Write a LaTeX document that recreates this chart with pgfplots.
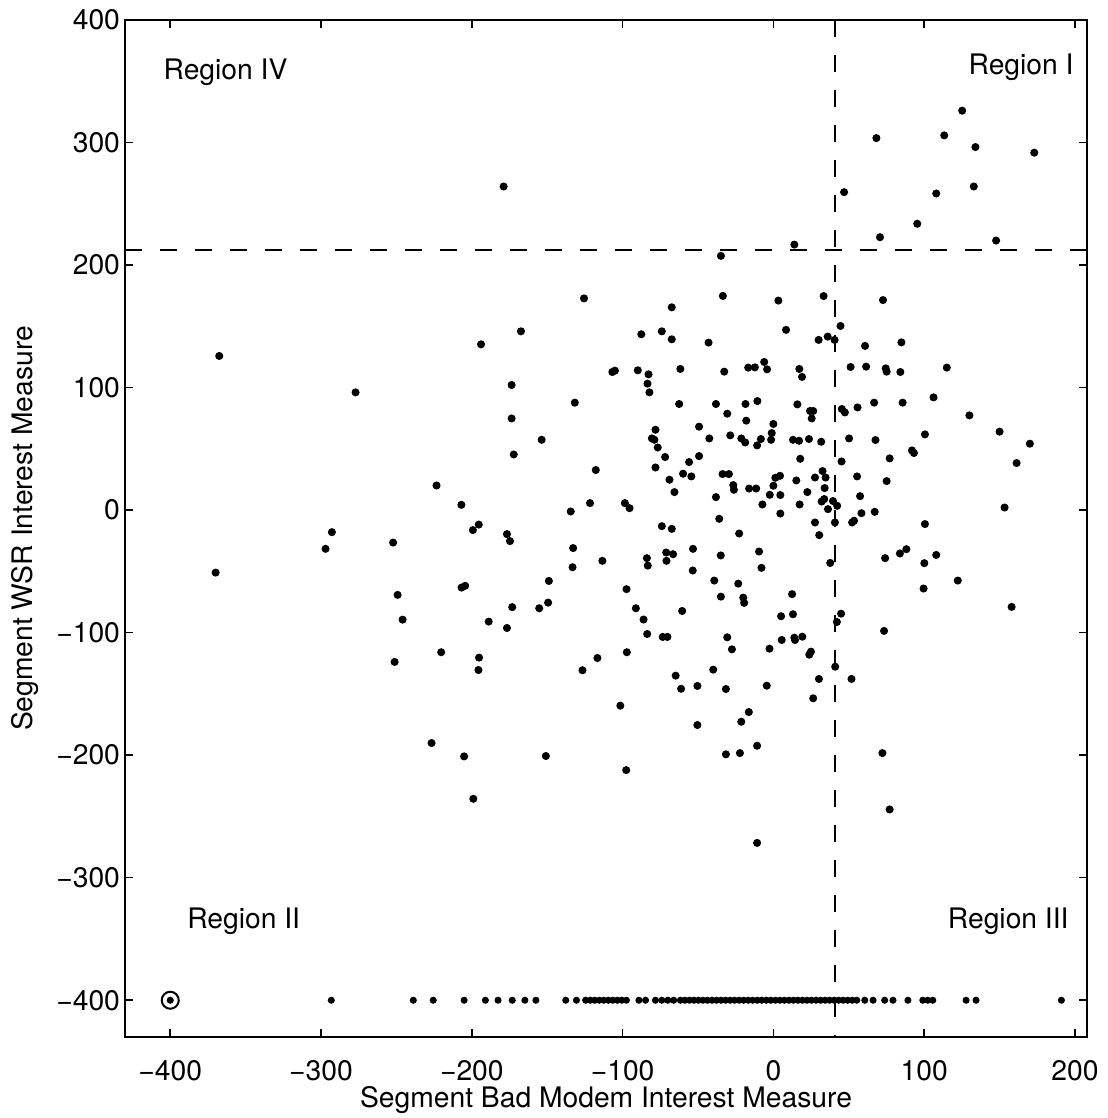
\documentclass[border=0pt]{standalone}
\usepackage{fontspec}
\setmainfont{TeX Gyre Heros}
\usepackage{pgfplots}
\pgfplotsset{compat=1.18}
\usepackage{pgfplotstable}

% points, x = bad modem measure, y = WSR measure
\pgfplotstableread{
x y
-178.9 264.1
-34.8 207.5
-125.6 172.8
-33.5 174.8
3.3 171.0
13.9 216.7
33.3 174.7
72.7 171.4
46.9 259.5
68.3 303.6
70.7 222.7
95.4 233.7
108.0 258.4
113.3 305.8
125.2 326.0
134.0 296.3
132.9 264.1
147.7 220.0
173.0 291.7
-367.5 125.8
-277.1 96.1
-223.4 20.1
-292.8 -18.0
-297.0 -31.6
-252.2 -26.5
-369.9 -51.0
-249.2 -69.2
-245.9 -89.4
-220.3 -116.0
-251.2 -123.9
-226.7 -190.1
-67.4 165.5
-167.4 145.9
-193.9 135.3
-87.6 143.5
-74.0 145.9
-67.4 139.4
-43.0 136.7
-173.6 102.1
-106.8 112.7
-105.1 113.8
-89.9 114.1
-82.8 110.8
-83.5 103.2
-82.2 96.1
-61.7 115.2
-32.6 113.0
-16.7 116.3
-12.3 116.5
-6.1 120.9
-4.2 114.9
-131.7 87.7
-173.6 74.8
-153.7 57.4
-172.2 45.4
-62.5 86.6
-38.1 86.6
-18.5 86.6
-10.6 89.0
-30.6 78.7
-18.0 73.0
0.0 70.3
-49.3 68.1
-42.5 58.5
-28.6 61.0
-21.3 58.5
-18.7 55.2
-8.3 58.0
-10.8 52.8
-1.5 57.4
-1.1 62.9
-78.2 65.6
-80.6 58.5
-78.9 57.4
-76.7 51.1
-71.8 43.3
-78.2 34.8
-55.9 39.2
-49.3 44.1
-68.9 24.8
-59.9 29.7
-54.4 27.5
-65.6 14.7
-117.8 32.7
-206.9 4.3
-195.4 -11.8
-199.3 -16.3
-176.7 -19.6
-174.7 -25.3
-134.4 -1.1
-121.6 5.7
-98.5 5.7
-95.4 1.6
-132.8 -31.0
-74.0 -13.1
-67.4 -15.3
-53.3 -31.6
-71.1 -34.6
-66.5 -36.0
-38.1 10.6
-35.9 -7.1
-22.7 -19.1
-9.5 -33.8
-34.9 -37.0
-33.7 29.4
-29.5 29.4
-26.6 20.4
-26.2 16.6
-16.1 17.6
-11.4 17.6
-7.3 4.6
-2.4 12.5
0.0 19.9
1.3 26.4
4.6 12.3
4.6 -2.8
8.4 147.1
44.5 150.3
30.0 138.9
36.0 141.6
40.6 138.9
60.8 134.0
84.9 136.9
17.2 115.2
19.0 108.7
51.2 116.8
61.5 117.1
74.5 115.7
75.1 113.0
84.2 112.7
115.0 116.3
15.9 86.3
24.3 80.9
26.4 80.9
25.4 74.8
45.4 82.5
47.4 79.7
55.8 83.8
66.8 87.7
85.7 87.7
106.2 92.0
130.0 77.3
13.0 57.4
17.0 56.6
23.6 58.0
31.7 55.8
50.2 58.5
67.7 57.2
100.5 61.8
91.9 48.7
93.2 46.6
77.1 42.2
17.8 41.9
45.2 39.7
150.0 64.0
170.1 54.2
161.3 38.4
32.6 31.9
4.4 28.0
27.6 26.6
34.6 26.6
15.2 24.2
55.5 27.5
75.1 23.7
34.0 18.0
22.5 14.7
57.5 11.4
32.0 7.0
33.7 9.0
39.5 7.4
42.3 3.5
36.2 0.8
17.4 4.6
58.4 -2.5
67.2 -1.4
27.6 -10.1
40.8 -10.1
52.2 -10.1
53.5 -8.7
30.4 -20.4
100.5 -11.4
153.3 2.1
83.9 -35.4
88.2 -31.9
108.0 -36.6
37.7 -43.1
74.1 -39.2
100.1 -43.3
122.3 -57.5
99.6 -64.0
158.0 -79.0
12.4 -68.6
5.1 -86.6
13.0 -85.0
5.5 -106.0
13.9 -104.1
14.3 -106.0
19.2 -103.3
23.8 -118.0
24.9 -115.5
44.9 -84.5
42.1 -91.3
73.4 -98.6
41.0 -127.8
30.2 -137.8
51.8 -137.8
26.4 -153.6
72.3 -198.3
77.1 -244.3
-83.9 -39.2
-83.3 -45.3
-70.9 -41.4
-113.4 -41.4
-133.2 -46.6
-53.5 -49.3
-7.9 -47.1
-148.9 -57.8
-206.8 -63.2
-204.4 -61.8
-97.4 -64.5
-39.2 -57.5
-23.3 -60.0
-34.8 -70.6
-20.0 -71.4
-19.4 -75.7
-173.2 -79.2
-155.3 -80.1
-149.4 -75.5
-188.8 -91.0
-176.7 -96.2
-91.2 -80.1
-86.1 -89.3
-83.7 -101.1
-73.4 -103.5
-70.3 -103.5
-60.5 -82.3
-30.6 -103.8
-27.5 -113.6
-2.6 -113.1
-195.2 -120.4
-195.6 -130.5
-126.6 -130.7
-116.7 -120.7
-97.2 -116.0
-64.8 -135.1
-61.2 -145.8
-50.4 -143.5
-39.9 -130.2
-31.5 -146.0
-4.4 -143.3
-101.5 -159.6
-50.4 -175.4
-16.3 -164.8
-21.3 -172.7
-10.8 -192.3
-31.5 -199.3
-22.2 -198.3
-205.1 -201.0
-150.9 -200.7
-97.6 -212.2
-199.0 -235.6
-10.8 -271.6
}\scatterdata

% segments with no WSR measure sit on the -400 line
\pgfplotstableread{
x y
-293.2 -400
-238.8 -400
-225.6 -400
-205.1 -400
-191.0 -400
-182.6 -400
-173.2 -400
-164.8 -400
-157.5 -400
-137.7 -400
-130.6 -400
-124.5 -400
-121.5 -400
-118.5 -400
-115.5 -400
-112.5 -400
-109.5 -400
-106.5 -400
-103.5 -400
-100.5 -400
-97.5 -400
-89.2 -400
-84.8 -400
-78.2 -400
-74.0 -400
-70.0 -400
-66.1 -400
-61.7 -400
-58.7 -400
-55.7 -400
-52.7 -400
-49.7 -400
-46.7 -400
-43.7 -400
-40.7 -400
-37.7 -400
-34.7 -400
-31.7 -400
-28.7 -400
-25.7 -400
-22.7 -400
-19.7 -400
-16.7 -400
-13.7 -400
-10.7 -400
-7.7 -400
-4.7 -400
-1.7 -400
1.3 -400
4.3 -400
7.3 -400
10.3 -400
13.3 -400
16.3 -400
19.3 -400
22.3 -400
25.3 -400
28.3 -400
31.3 -400
34.3 -400
37.3 -400
40.3 -400
43.3 -400
46.3 -400
49.3 -400
52.3 -400
55.3 -400
60.6 -400
66.1 -400
73.8 -400
79.3 -400
89.2 -400
99.1 -400
102.4 -400
105.7 -400
127.8 -400
134.4 -400
191.0 -400
}\bottomrow

\begin{document}
\begin{tikzpicture}
\begin{axis}[
  name=ax,
  scale only axis,
  width=384.8pt, height=406.8pt,
  xmin=-430, xmax=208, ymin=-430, ymax=400,
  xtick={-400,-300,...,200},
  xticklabels={−400,−300,−200,−100,0,100,200},
  ytick={-400,-300,...,400},
  yticklabels={−400,−300,−200,−100,0,100,200,300,400},
  tick align=inside,
  major tick length=3.3pt,
  tick style={line width=0.6pt, black},
  axis line style={line width=0.8pt},
  tick label style={font=\fontsize{11.3}{13}\selectfont},
  label style={font=\fontsize{11.3}{13}\selectfont},
  xticklabel shift=6pt,
  yticklabel shift=-1.5pt,
  xlabel={Segment Bad Modem Interest Measure},
  ylabel={Segment WSR Interest Measure},
  xlabel style={yshift=5pt},
]
\addplot[black, line width=0.8pt, dash pattern=on 6.7pt off 7.3pt] coordinates {(-430,212.5) (208,212.5)};
\addplot[black, line width=0.8pt, dash pattern=on 6.7pt off 7.3pt] coordinates {(41,400) (41,-430)};
\addplot[only marks, mark=*, mark size=1.4pt, black] table {\scatterdata};
\addplot[only marks, mark=*, mark size=1.2pt, black] table {\bottomrow};
\addplot[only marks, mark=*, mark size=1.2pt, black] coordinates {(-400,-400)};
\addplot[only marks, mark=o, mark size=3.4pt, black, mark options={line width=0.8pt}] coordinates {(-400,-400)};
\node[anchor=west, inner sep=0pt, font=\fontsize{11.3}{13}\selectfont] at (axis cs:-404.7,357.5) {Region IV};
\node[anchor=east, inner sep=0pt, font=\fontsize{11.3}{13}\selectfont] at (axis cs:199.4,361.6) {Region I};
\node[anchor=west, inner sep=0pt, font=\fontsize{11.3}{13}\selectfont] at (axis cs:-389,-335.5) {Region II};
\node[anchor=east, inner sep=0pt, font=\fontsize{11.3}{13}\selectfont] at (axis cs:196.1,-335.5) {Region III};
\end{axis}
\pgfresetboundingbox
\path[use as bounding box] ([xshift=-50pt,yshift=-32.4pt]ax.south west) rectangle ([xshift=8pt,yshift=8pt]ax.north east);
\end{tikzpicture}
\end{document}
